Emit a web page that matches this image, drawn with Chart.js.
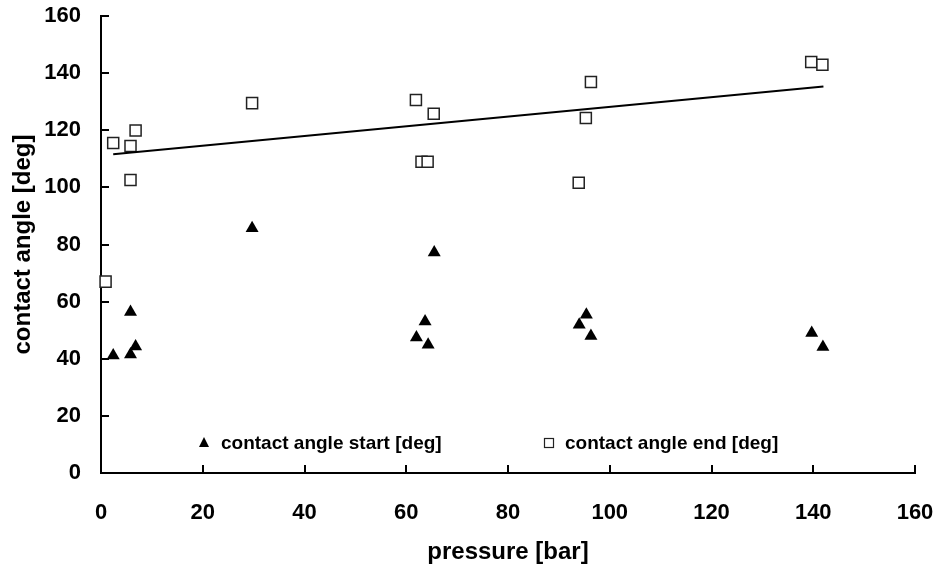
<!DOCTYPE html>
<html>
<head>
<meta charset="utf-8">
<script src="https://cdn.jsdelivr.net/npm/chart.js@4.4.1/dist/chart.umd.min.js"></script>
<style>
    html, body { margin: 0; padding: 0; background: #fff; }
    #wrap { width: 937px; height: 571px; position: relative; }
</style>
</head>
<body>
<div id="wrap"><canvas id="chart"></canvas></div>
<script>
// Data
const pressureStart = [2.4, 5.8, 5.8, 6.8, 29.7, 62.0, 63.7, 64.3, 65.5, 94.0, 95.4, 96.3, 139.7, 141.9];
const angleStart    = [41.1, 41.5, 56.4, 44.3, 85.7, 47.4, 53.0, 44.9, 77.2, 51.9, 55.4, 48.0, 49.0, 44.1];

const pressureEnd = [0.9, 2.4, 5.8, 6.8, 5.8, 29.7, 61.9, 65.4, 63.0, 64.2, 96.3, 95.3, 93.9, 139.6, 141.8];
const angleEnd    = [67.0, 115.5, 114.5, 119.9, 102.6, 129.5, 130.6, 125.8, 109.0, 109.0, 136.9, 124.3, 101.6, 143.9, 142.9];

// linear trend line of the end angle (two end points)
const trendPressure = [2.4, 142.0];
const trendAngle    = [111.6, 135.3];

const xTicks = [0, 20, 40, 60, 80, 100, 120, 140, 160];
const yTicks = [0, 20, 40, 60, 80, 100, 120, 140, 160];

const legendLabels = ['contact angle start [deg]', 'contact angle end [deg]'];

const FONT = '"Liberation Sans", Arial, sans-serif';

function toPoints(xs, ys) {
    return xs.map((x, i) => ({ x: x, y: ys[i] }));
}

// inward tick marks like the original spreadsheet chart
const tickMarks = {
    id: 'tickMarks',
    afterDraw(chart) {
        const ctx = chart.ctx;
        const xs = chart.scales.x;
        const ys = chart.scales.y;
        const area = chart.chartArea;
        ctx.save();
        ctx.strokeStyle = '#000';
        ctx.lineWidth = 2;
        xTicks.forEach(v => {
            const px = Math.round(xs.getPixelForValue(v));
            ctx.beginPath();
            ctx.moveTo(px, area.bottom);
            ctx.lineTo(px, area.bottom - 8);
            ctx.stroke();
        });
        yTicks.forEach(v => {
            const py = Math.round(ys.getPixelForValue(v));
            ctx.beginPath();
            ctx.moveTo(area.left, py);
            ctx.lineTo(area.left + 8, py);
            ctx.stroke();
        });
        ctx.restore();
    }
};

// legend drawn inside the plot, near the bottom
const innerLegend = {
    id: 'innerLegend',
    afterDraw(chart) {
        const ctx = chart.ctx;
        const y = 443;
        ctx.save();
        ctx.font = 'bold 19px ' + FONT;
        ctx.fillStyle = '#000';
        ctx.textBaseline = 'middle';

        // triangle marker
        ctx.beginPath();
        ctx.moveTo(204, y - 6);
        ctx.lineTo(209, y + 4);
        ctx.lineTo(199, y + 4);
        ctx.closePath();
        ctx.fill();
        ctx.fillText(legendLabels[0], 221, y + 1);

        // square marker
        ctx.strokeStyle = '#222';
        ctx.lineWidth = 1.2;
        ctx.fillStyle = '#fff';
        ctx.fillRect(544.5, y - 4.5, 9, 9);
        ctx.strokeRect(544.5, y - 4.5, 9, 9);
        ctx.fillStyle = '#000';
        ctx.fillText(legendLabels[1], 565, y + 1);
        ctx.restore();
    }
};

const chart = new Chart(document.getElementById('chart'), {
    type: 'scatter',
    data: {
        datasets: [
            {
                label: 'trend',
                type: 'line',
                data: toPoints(trendPressure, trendAngle),
                borderColor: '#000',
                borderWidth: 2,
                pointRadius: 0,
                fill: false,
                clip: false
            },
            {
                label: legendLabels[0],
                data: toPoints(pressureStart, angleStart),
                pointStyle: 'triangle',
                pointRadius: 7.5,
                backgroundColor: '#000',
                borderColor: '#000',
                borderWidth: 0,
                clip: false
            },
            {
                label: legendLabels[1],
                data: toPoints(pressureEnd, angleEnd),
                pointStyle: 'rect',
                pointRadius: 7.8,
                backgroundColor: '#fff',
                borderColor: '#222',
                borderWidth: 1.5,
                clip: false
            }
        ]
    },
    options: {
        responsive: true,
        maintainAspectRatio: false,
        animation: false,
        layout: {
            padding: { top: 16, right: 22, left: 0, bottom: 0 }
        },
        plugins: {
            legend: { display: false },
            tooltip: { enabled: false }
        },
        scales: {
            x: {
                type: 'linear',
                min: 0,
                max: 160,
                afterBuildTicks: (scale) => {
                    scale.ticks = xTicks.map(v => ({ value: v }));
                },
                afterFit: (scale) => {
                    scale.height = 98;
                    scale.paddingLeft = 0;
                    scale.paddingRight = 0;
                },
                grid: { display: false, drawTicks: false },
                border: { display: true, color: '#000', width: 2 },
                ticks: {
                    color: '#000',
                    padding: 27,
                    maxRotation: 0,
                    font: { family: FONT, size: 22, weight: 'bold' }
                },
                title: {
                    display: true,
                    text: 'pressure [bar]',
                    color: '#000',
                    padding: { top: 0, bottom: 4 },
                    font: { family: FONT, size: 24, weight: 'bold' }
                }
            },
            y: {
                type: 'linear',
                min: 0,
                max: 160,
                afterBuildTicks: (scale) => {
                    scale.ticks = yTicks.map(v => ({ value: v }));
                },
                afterFit: (scale) => {
                    scale.width = 101;
                    scale.paddingTop = 0;
                    scale.paddingBottom = 0;
                },
                grid: { display: false, drawTicks: false },
                border: { display: true, color: '#000', width: 2 },
                ticks: {
                    color: '#000',
                    padding: 20,
                    font: { family: FONT, size: 22, weight: 'bold' }
                },
                title: {
                    display: true,
                    text: 'contact angle [deg]',
                    color: '#000',
                    padding: { top: 9, bottom: 0 },
                    font: { family: FONT, size: 24, weight: 'bold' }
                }
            }
        }
    },
    plugins: [tickMarks, innerLegend]
});
</script>
</body>
</html>
